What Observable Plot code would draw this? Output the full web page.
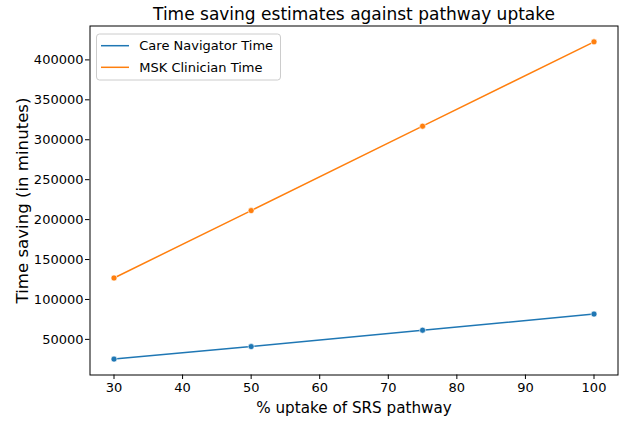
<!DOCTYPE html>
<html>
<head>
<meta charset="utf-8">
<script src="https://cdn.jsdelivr.net/npm/d3@7"></script>
<script src="https://cdn.jsdelivr.net/npm/@observablehq/plot@0.6"></script>
<style>
  html, body { margin: 0; padding: 0; background: white; }
  #chart { width: 621px; height: 423px; }
</style>
</head>
<body>
<div id="chart"></div>
<script>
const uptake = [30, 50, 75, 100];
const careNavigator = [25300, 41000, 61500, 81700];
const mskClinician = [126900, 211300, 317000, 422600];
const seriesNames = ["Care Navigator Time", "MSK Clinician Time"];
const seriesColors = ["#1f77b4", "#ff7f0e"];
const xTicks = [30, 40, 50, 60, 70, 80, 90, 100];
const yTicks = [50000, 100000, 150000, 200000, 250000, 300000, 350000, 400000];
const titleText = "Time saving estimates against pathway uptake";
const xLabel = "% uptake of SRS pathway";
const yLabel = "Time saving (in minutes)";

const data = [];
uptake.forEach((u, i) => {
  data.push({uptake: u, value: careNavigator[i], series: seriesNames[0]});
});
uptake.forEach((u, i) => {
  data.push({uptake: u, value: mskClinician[i], series: seriesNames[1]});
});

const plot = Plot.plot({
  width: 621,
  height: 423,
  marginLeft: 89.5,
  marginRight: 3.5,
  marginTop: 25.5,
  marginBottom: 48.5,
  style: {fontFamily: "DejaVu Sans", fontSize: "13px", color: "black", background: "white"},
  x: {domain: [26.5, 103.5]},
  y: {domain: [5400, 442450]},
  color: {domain: seriesNames, range: seriesColors},
  marks: [
    Plot.line(data, {x: "uptake", y: "value", z: "series", stroke: "series", strokeWidth: 1.5}),
    Plot.dot(data, {x: "uptake", y: "value", fill: "series", stroke: "white", strokeWidth: 0.6, r: 3}),
    Plot.frame({stroke: "black", strokeWidth: 1}),
    Plot.axisX({ticks: xTicks, tickSize: 4.5, tickPadding: 3, label: null, tickFormat: d => String(d), fontSize: 13}),
    Plot.axisY({ticks: yTicks, tickSize: 4.5, tickPadding: 2, label: null, tickFormat: d => String(d), fontSize: 13}),
    Plot.text([titleText], {text: d => d, frameAnchor: "top", textAnchor: "middle", lineAnchor: "middle", dy: -11, fontSize: 17}),
    Plot.text([xLabel], {text: d => d, frameAnchor: "bottom", textAnchor: "middle", lineAnchor: "middle", dy: 33, fontSize: 15.2}),
    Plot.text([yLabel], {text: d => d, frameAnchor: "left", textAnchor: "middle", lineAnchor: "middle", dx: -67, rotate: -90, fontSize: 16.6})
  ]
});

document.getElementById("chart").appendChild(plot);

// legend
const svg = d3.select(plot);
const lg = svg.append("g").attr("font-family", "DejaVu Sans").attr("font-size", "13px").attr("text-anchor", "start");
lg.append("rect").attr("x", 96.5).attr("y", 34).attr("width", 184).attr("height", 46)
  .attr("rx", 3).attr("fill", "white").attr("fill-opacity", 0.8).attr("stroke", "#cccccc");
seriesNames.forEach((name, i) => {
  const yy = 45.7 + i * 21.6;
  lg.append("line").attr("x1", 101).attr("x2", 129).attr("y1", yy).attr("y2", yy)
    .attr("stroke", seriesColors[i]).attr("stroke-width", 1.5);
  lg.append("text").attr("x", 139.3).attr("y", yy).attr("dy", "0.35em").attr("fill", "black")
    .attr("text-anchor", "start").text(name);
});
</script>
</body>
</html>
